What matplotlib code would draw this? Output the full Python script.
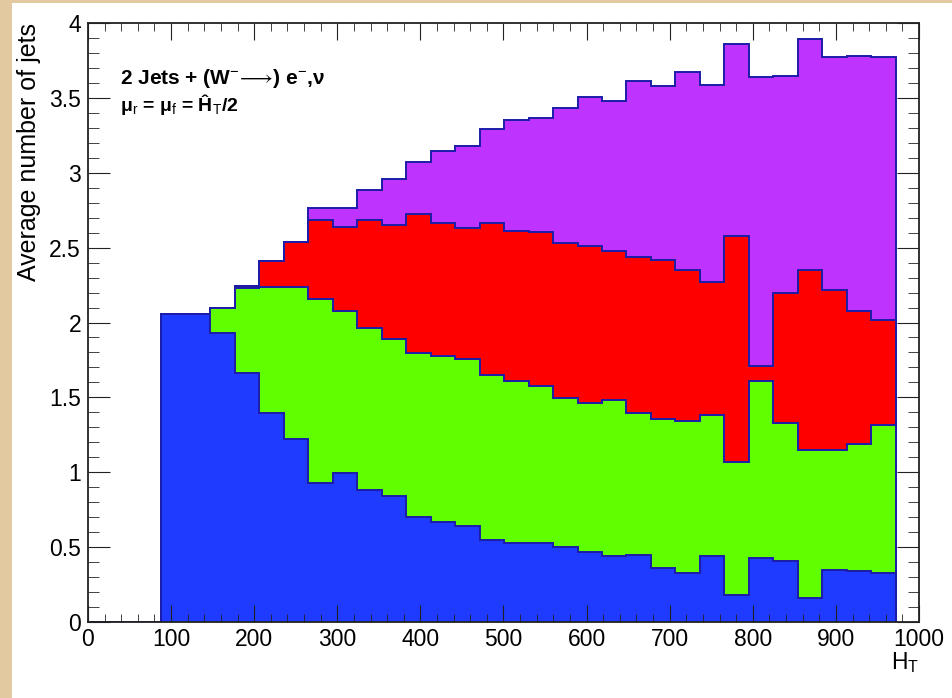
import numpy as np
import matplotlib
matplotlib.use("Agg")
import matplotlib.pyplot as plt
from matplotlib.ticker import MultipleLocator

plt.rcParams['font.family'] = ['Liberation Sans', 'DejaVu Sans']
plt.rcParams['mathtext.fontset'] = 'custom'
plt.rcParams['mathtext.rm'] = 'Liberation Sans'
plt.rcParams['mathtext.it'] = 'Liberation Sans'
plt.rcParams['mathtext.bf'] = 'Liberation Sans:bold'

# H_T binning: 33 bins from 0, first three empty
ht_lo, ht_hi, n_bins = 0, 972, 33

# cumulative heights of each stacked layer (top of layer)
top_purple = [0, 0, 0,
              2.055, 2.055, 2.095, 2.245, 2.41, 2.535, 2.762, 2.762, 2.885, 2.96,
              3.07, 3.147, 3.178, 3.292, 3.352, 3.363, 3.435, 3.508, 3.479, 3.615,
              3.581, 3.67, 3.585, 3.86, 3.64, 3.645, 3.89, 3.77, 3.78, 3.77]
top_red = [0, 0, 0,
           2.055, 2.055, 2.095, 2.245, 2.41, 2.535, 2.684, 2.64, 2.684, 2.651,
           2.722, 2.662, 2.629, 2.662, 2.613, 2.602, 2.529, 2.513, 2.477, 2.44,
           2.417, 2.35, 2.27, 2.58, 1.71, 2.20, 2.35, 2.22, 2.075, 2.017]
top_green = [0, 0, 0,
             2.055, 2.055, 2.095, 2.23, 2.239, 2.239, 2.16, 2.077, 1.961, 1.888,
             1.794, 1.779, 1.756, 1.649, 1.609, 1.576, 1.498, 1.465, 1.482, 1.393,
             1.356, 1.345, 1.38, 1.07, 1.61, 1.326, 1.147, 1.147, 1.19, 1.313]
top_blue = [0, 0, 0,
            2.055, 2.055, 1.928, 1.661, 1.394, 1.22, 0.93, 0.993, 0.88, 0.84,
            0.70, 0.67, 0.64, 0.55, 0.53, 0.53, 0.50, 0.47, 0.44, 0.45,
            0.36, 0.33, 0.44, 0.183, 0.426, 0.41, 0.163, 0.349, 0.34, 0.329]

layers = [(top_purple, '#bf33ff'), (top_red, '#ff0000'),
          (top_green, '#5fff00'), (top_blue, '#1f3bff')]
edge_col = '#1c1ca8'

fig = plt.figure(figsize=(9.53, 6.98), dpi=100)
fig.patch.set_facecolor('white')
# beige frame on the left and top edges
fig.add_artist(plt.Rectangle((0, 0), 12 / 953, 1, transform=fig.transFigure,
                             color='#e2c9a0', lw=0, zorder=0))
fig.add_artist(plt.Rectangle((0, 1 - 3 / 698), 1, 3 / 698, transform=fig.transFigure,
                             color='#e2c9a0', lw=0, zorder=0))

ax = fig.add_axes([88 / 953, 76 / 698, 831 / 953, 599 / 698])

edges = np.linspace(ht_lo, ht_hi, n_bins + 1)
for vals, col in layers:
    ax.stairs(vals, edges, fill=True, facecolor=col, edgecolor=edge_col,
              linewidth=1.4, baseline=0)

ax.set_xlim(0, 1000)
ax.set_ylim(0, 4)
ax.xaxis.set_major_locator(MultipleLocator(100))
ax.xaxis.set_minor_locator(MultipleLocator(20))
ax.yaxis.set_major_locator(MultipleLocator(0.5))
ax.yaxis.set_minor_locator(MultipleLocator(0.1))
ax.tick_params(which='both', direction='in', top=True, right=True,
               labelsize=16.5, color='#222222')
ax.tick_params(axis='x', which='major', length=12, pad=4)
ax.tick_params(axis='x', which='minor', length=6)
ax.tick_params(axis='y', which='major', length=16, pad=5)
ax.tick_params(axis='y', which='minor', length=8)
ax.set_yticks([0, 0.5, 1, 1.5, 2, 2.5, 3, 3.5, 4])
ax.set_yticklabels(['0', '0.5', '1', '1.5', '2', '2.5', '3', '3.5', '4'])
for sp in ax.spines.values():
    sp.set_color('#222222')
    sp.set_linewidth(1.3)

ax.set_ylabel('Average number of jets', fontsize=18, loc='top', labelpad=6)
ax.set_xlabel(r'H$_{\rm T}$', fontsize=16.5, loc='right', labelpad=0)

ax.text(120 / 953, 1 - 84 / 698, r'2 Jets + (W$^{-}\!\longrightarrow\!$) e$^{-}$,ν',
        transform=fig.transFigure, fontsize=15, fontweight='bold')
ax.text(120 / 953, 1 - 111 / 698, 'μ$_{r}$ = μ$_{f}$ = Ĥ$_{T}$/2',
        transform=fig.transFigure, fontsize=14, fontweight='bold')

fig.savefig('out.png', dpi=100)
